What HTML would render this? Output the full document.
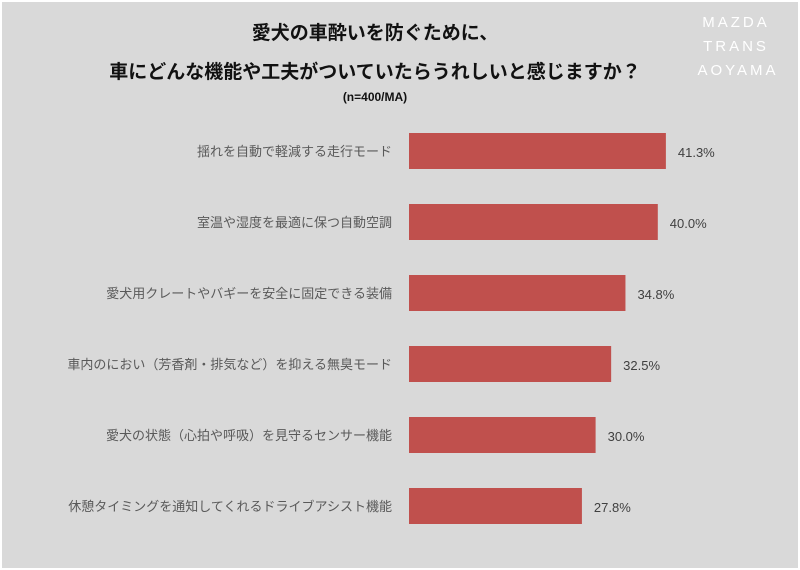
<!DOCTYPE html>
<html><head><meta charset="utf-8"><style>
body{margin:0;width:800px;height:570px;background:#fff;overflow:hidden}
#c{position:absolute;left:2px;top:2px;width:796px;height:566px;background:#d9d9d9;font-family:"Liberation Sans","Noto Sans CJK JP",sans-serif}
.t{position:absolute;left:0;width:746px;text-align:center;font-weight:bold;color:#111}
.logo{position:absolute;right:22px;color:#fff;font-size:15px;letter-spacing:3px;text-align:center;width:80px}
</style></head><body>
<div id="c">
<div class="t" style="top:16px;font-size:19px">愛犬の車酔いを防ぐために、</div>
<div class="t" style="top:55px;font-size:19px">車にどんな機能や工夫がついていたらうれしいと感じますか？</div>
<div class="t" style="top:88px;font-size:12px">(n=400/MA)</div>
<div class="logo" style="top:12px">MAZDA</div>
<div class="logo" style="top:36px">TRANS</div>
<div class="logo" style="top:60px;width:92px;right:14px">AOYAMA</div>
<svg id="s" width="796" height="566" style="position:absolute;left:0;top:0"></svg>
</div>
<script>
const categories=["揺れを自動で軽減する走行モード","室温や湿度を最適に保つ自動空調","愛犬用クレートやバギーを安全に固定できる装備","車内のにおい（芳香剤・排気など）を抑える無臭モード","愛犬の状態（心拍や呼吸）を見守るセンサー機能","休憩タイミングを通知してくれるドライブアシスト機能"];
const values=[41.3,40.0,34.8,32.5,30.0,27.8];
const labels=["41.3%","40.0%","34.8%","32.5%","30.0%","27.8%"];
const s=document.getElementById('s'),NS="http://www.w3.org/2000/svg";
const x=v=>407+v*6.22, y=i=>131+i*71;
categories.forEach((c,i)=>{
 const r=document.createElementNS(NS,'rect');
 r.setAttribute('x',407);r.setAttribute('y',y(i));r.setAttribute('width',x(values[i])-407);r.setAttribute('height',36);r.setAttribute('fill','#c0504d');
 
 
 s.appendChild(r);
 const t=document.createElementNS(NS,'text');
 t.setAttribute('x',390);t.setAttribute('y',y(i)+23);t.setAttribute('text-anchor','end');t.setAttribute('font-size','13');t.setAttribute('fill','#595959');t.textContent=c;
 
 
 s.appendChild(t);
 const v=document.createElementNS(NS,'text');
 v.setAttribute('x',x(values[i])+12);v.setAttribute('y',y(i)+24);v.setAttribute('font-size','13');v.setAttribute('fill','#404040');v.textContent=labels[i];
 
 
 s.appendChild(v);
});
</script>
</body></html>
